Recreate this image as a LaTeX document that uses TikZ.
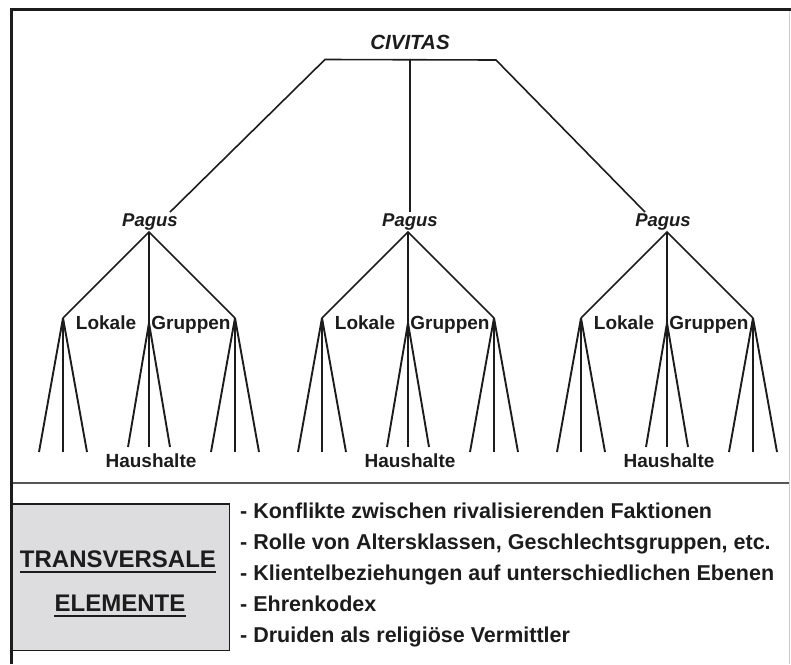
\documentclass[tikz,border=0pt]{standalone}
\usepackage{fontspec}
\setmainfont{Liberation Sans}
\usetikzlibrary{positioning}
\definecolor{lineColor}{RGB}{28, 28, 28}
\definecolor{boxFill}{RGB}{221, 221, 223}
\definecolor{ruleColor}{RGB}{85, 85, 85}
\definecolor{edgeGray}{RGB}{205, 205, 205}
\tikzset{
    civ_label/.style={
        font=\bfseries\itshape\fontsize{20.5}{24}\selectfont,
        text=lineColor,
        anchor=base,
        inner sep=1pt
    },
    pagus_label/.style={
        font=\bfseries\itshape\fontsize{18.5}{22}\selectfont,
        text=lineColor,
        anchor=base,
        inner sep=1pt
    },
    group_label/.style={
        font=\bfseries\fontsize{19}{22}\selectfont,
        text=lineColor,
        anchor=base,
        inner sep=1pt
    },
    tree_edge/.style={
        draw=lineColor,
        line width=1.6pt
    },
    fan_edge/.style={
        draw=lineColor,
        line width=1.9pt
    },
    item_text/.style={
        font=\bfseries\fontsize{21.5}{24}\selectfont,
        text=lineColor,
        anchor=base west,
        inner sep=0pt
    },
    box_title/.style={
        font=\bfseries\fontsize{24}{28}\selectfont,
        text=lineColor,
        anchor=base,
        inner sep=0pt
    },
    side_box/.style={
        draw=lineColor,
        line width=1.4pt,
        fill=boxFill
    }
}
\begin{document}
\begin{tikzpicture}[x=1pt, y=-1pt]
    \useasboundingbox (0,0) rectangle (791,664);
    % frame and divider
    \draw[line width=3pt, draw=lineColor] (11.5,664) -- (11.5,9.5) -- (791,9.5);
    \draw[line width=1pt, draw=edgeGray] (789,11) -- (789,664);
    \draw[line width=1.5pt, draw=ruleColor] (13,483) -- (789,483);

    % civitas
    \node[civ_label] (civ) at (410,49) {CIVITAS};
    \coordinate (barL) at (325,59.5);
    \coordinate (barM) at (410,60);
    \coordinate (barR) at (496,60);

    % pagi with local groups and households
    \foreach \i/\cx/\px in {1/149/150, 2/408/410, 3/667/663} {
        \node[pagus_label] (pag\i) at (\px,226) {Pagus};
        \coordinate (apex\i) at (\cx,232);
        \coordinate (lok\i) at (\cx-86,318);
        \coordinate (mid\i) at (\cx,323);
        \coordinate (gru\i) at (\cx+86,318);
        \draw[tree_edge] (lok\i) -- (apex\i) -- (gru\i) (apex\i) -- (mid\i);
        \foreach \s in {-24,0,24} {
            \draw[fan_edge] (lok\i) -- ++(\s,134);
            \draw[fan_edge] (gru\i) -- ++(\s,134);
        }
        \foreach \s in {-21,0,21}
            \draw[fan_edge] (mid\i) -- ++(\s,124);
        \node[group_label] (lokale\i) at (\cx-43,329) {Lokale};
        \node[group_label] (gruppen\i) at (\cx+42,329) {Gruppen};
        \node[group_label] (haus\i) at (\cx+2,467) {Haushalte};
    }
    \draw[tree_edge] ([xshift=20pt]pag1.north) -- (barL) -- (barR) -- ([xshift=-18pt]pag3.north);
    \draw[tree_edge] (barM) -- (pag2.north);

    % transversal elements
    \draw[side_box] (12,504) rectangle (229.5,650.5);
    \node[box_title] (trans) at (118,567) {TRANSVERSALE};
    \node[box_title] (elem) at (120,611) {ELEMENTE};
    \draw[line width=1.5pt, draw=lineColor] ([yshift=-5pt]trans.base west) -- ([yshift=-5pt]trans.base east);
    \draw[line width=1.5pt, draw=lineColor] ([yshift=-5pt]elem.base west) -- ([yshift=-5pt]elem.base east);

    \node[item_text] (konf) at (240,518) {- Konflikte zwischen rivalisierenden Faktionen};
    \node[item_text] (rolle) at (240,549) {- Rolle von Altersklassen, Geschlechtsgruppen, etc.};
    \node[item_text] (klient) at (240,580) {- Klientelbeziehungen auf unterschiedlichen Ebenen};
    \node[item_text] (ehre) at (240,611) {- Ehrenkodex};
    \node[item_text] (druid) at (240,642) {- Druiden als religiöse Vermittler};
\end{tikzpicture}
\end{document}
